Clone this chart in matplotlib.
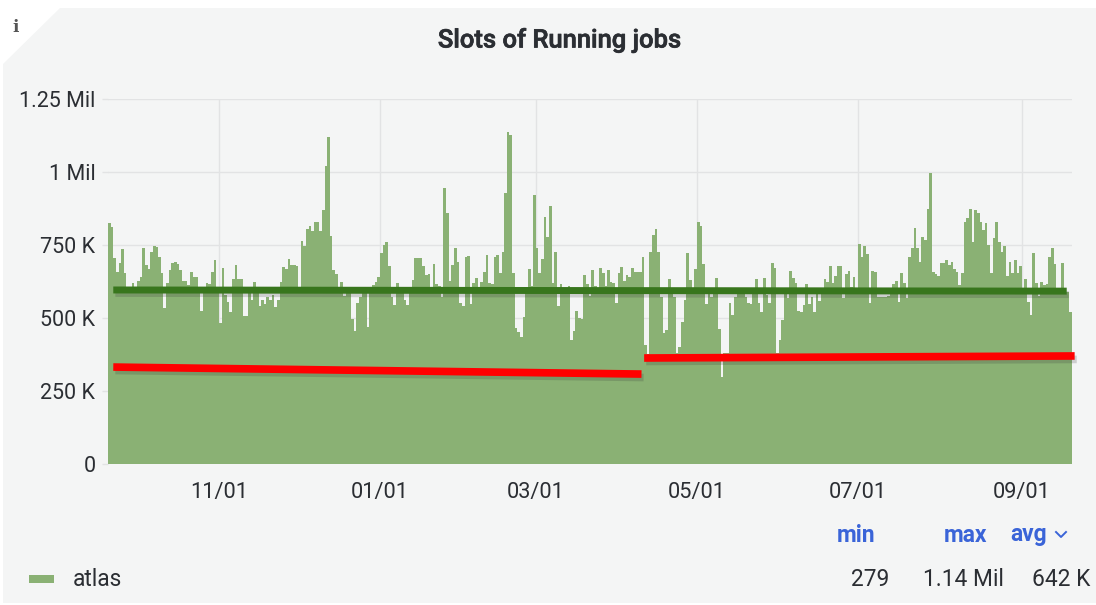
import matplotlib
matplotlib.use("Agg")
import matplotlib.pyplot as plt
import matplotlib.dates as mdates
import matplotlib.patheffects as pe
import pandas as pd
from matplotlib.patches import Polygon, Rectangle
from matplotlib.lines import Line2D

plt.rcParams["font.family"] = ["Roboto", "DejaVu Sans"]

# Daily slots in thousands
slots_autumn = [824, 813, 704, 659, 687, 735, 653, 600, 600, 621, 605, 627, 641, 739, 681, 668, 727, 748, 744, 710,
                653, 533, 619, 664, 689, 693, 685, 664, 628, 628, 613, 659, 639, 639, 600, 525, 600, 619, 615, 659,
                699, 600, 482, 670, 579, 556, 522, 632, 681, 632, 632, 508, 508, 600, 562, 624, 600, 541, 562, 548,
                573, 562, 579, 539, 562, 622, 676, 668, 701, 681, 681, 679, 600, 765, 747, 805, 815, 798, 829, 829,
                798, 870, 1022, 1121, 781, 664, 650, 600, 624, 575, 600, 585, 495, 455, 552, 573, 600, 600, 470, 600,
                612, 625, 641, 721, 750, 760, 679, 573, 544, 621, 600, 600, 562, 544, 600, 630, 704, 704]
slots_spring = [704, 679, 647, 650, 600, 685, 616, 610, 573, 946, 858, 628, 681, 739, 691, 550, 541, 708, 712, 548,
                621, 636, 600, 625, 659, 716, 619, 616, 708, 716, 653, 727, 929, 1138, 1127, 653, 465, 453, 436, 505,
                600, 668, 610, 921, 739, 653, 701, 847, 776, 884, 621, 725, 541, 615, 600, 600, 610, 425, 457, 525,
                499, 497, 647, 616, 576, 664, 610, 600, 670, 653, 610, 664, 624, 619, 550, 653, 676, 627, 647, 641,
                672, 656, 656, 656, 710, 408, 376, 725, 784, 805, 725, 573, 450, 459, 634, 600, 573, 379, 402, 487,
                562, 724, 630, 600, 668, 830, 816, 685, 548, 600, 571, 600, 636, 461, 297, 379, 379, 550, 510, 573,
                600, 600, 600, 573, 550]
slots_summer = [548, 600, 634, 550, 522, 636, 579, 553, 690, 670, 379, 425, 493, 590, 567, 662, 638, 621, 525, 519,
                545, 616, 548, 571, 522, 590, 558, 595, 634, 624, 679, 619, 645, 678, 678, 567, 650, 662, 607, 642,
                590, 753, 708, 747, 719, 553, 661, 659, 573, 571, 573, 573, 575, 590, 616, 628, 556, 655, 619, 567,
                710, 739, 809, 739, 691, 779, 767, 873, 995, 659, 650, 644, 690, 690, 699, 681, 693, 668, 659, 613,
                653, 830, 841, 872, 761, 870, 858, 828, 801, 824, 750, 653, 773, 828, 761, 727, 748, 644, 693, 653,
                699, 655, 678, 590, 634, 556, 510, 724, 619, 575, 622, 613, 616, 710, 741, 685, 590, 590, 690, 590,
                590, 522]
slots = slots_autumn + slots_spring + slots_summer
dates = pd.date_range("2020-09-20", periods=len(slots), freq="D")

tick_dates = ["2020-11-01", "2021-01-01", "2021-03-01", "2021-05-01", "2021-07-01", "2021-09-01"]
tick_labels = ["11/01", "01/01", "03/01", "05/01", "07/01", "09/01"]
y_ticks = [0, 250, 500, 750, 1000, 1250]
y_labels = ["0", "250 K", "500 K", "750 K", "1 Mil", "1.25 Mil"]

# Hand drawn guide lines on top of the chart
green_x = ["2020-09-22", "2021-09-18"]
green_y = [596, 592]
red1_x = ["2020-09-22", "2021-04-10"]
red1_y = [332, 308]
red2_x = ["2021-04-11", "2021-09-21"]
red2_y = [363, 370]

W, H = 1096, 605
BG = "#f4f5f5"
GRID = "#e2e3e4"
BAR = "#8ab174"
TEXT = "#2b2e33"
BLUE = "#3a64d8"

fig = plt.figure(figsize=(W / 100, H / 100), dpi=100, facecolor="white")

def px(x, y):
    return x / W, 1 - y / H

# panel background and the corner with the info mark
fig.patches.append(Rectangle((3 / W, 1 - 603 / H), (W - 3) / W, 595 / H, transform=fig.transFigure,
                             facecolor=BG, edgecolor="none", zorder=-2))
fig.patches.append(Polygon([px(3, 8), px(60, 8), px(3, 64)], closed=True, transform=fig.transFigure,
                           facecolor="white", edgecolor="none", zorder=-1))
fig.text(*px(16, 27), "i", family="DejaVu Serif", weight="bold", fontsize=12, color="#555555",
         ha="center", va="center")

ax = fig.add_axes([108 / W, 1 - 464 / H, 964 / W, 365 / H])
ax.set_facecolor("none")

edges = mdates.date2num(dates.tolist() + [dates[-1] + pd.Timedelta(days=1)])
ax.stairs(slots, edges, fill=True, color=BAR, linewidth=0, zorder=2)

ax.set_xlim(edges[0], edges[-1])
ax.set_ylim(0, 1250)
ax.set_xticks(mdates.date2num(pd.to_datetime(tick_dates)))
ax.set_xticklabels(tick_labels)
ax.set_yticks(y_ticks)
ax.set_yticklabels(y_labels)
ax.grid(True, color=GRID, linewidth=1.0, zorder=0)
ax.set_axisbelow(True)
ax.tick_params(axis="x", length=0, pad=13, labelsize=15.7, labelcolor=TEXT)
ax.tick_params(axis="y", length=4, width=1.0, color=GRID, pad=5, labelsize=15.5, labelcolor=TEXT)
for s in ax.spines.values():
    s.set_visible(False)

shadow = [pe.SimpleLineShadow(offset=(1.5, -2.5), shadow_color="#333333", alpha=0.2), pe.Normal()]
ax.plot(pd.to_datetime(green_x), green_y, color="#38761d", linewidth=5, solid_capstyle="butt",
        path_effects=shadow, zorder=4)
ax.plot(pd.to_datetime(red1_x), red1_y, color="#ff0000", linewidth=5.5, solid_capstyle="butt",
        path_effects=shadow, zorder=4)
ax.plot(pd.to_datetime(red2_x), red2_y, color="#ff0000", linewidth=5.5, solid_capstyle="butt",
        path_effects=shadow, zorder=4, clip_on=False)

fig.text(*px(559, 40), "Slots of Running jobs", fontsize=18.4, weight="medium", color=TEXT,
         ha="center", va="center", path_effects=[pe.withStroke(linewidth=0.5, foreground=TEXT)])

# legend table below the chart
fig.text(*px(875, 535), "min", fontsize=16.4, weight="bold", color=BLUE, ha="right", va="center")
fig.text(*px(987, 535), "max", fontsize=16.4, weight="bold", color=BLUE, ha="right", va="center")
fig.text(*px(1047, 535), "avg", fontsize=16.4, weight="bold", color=BLUE, ha="right", va="center")
cx = [px(1056, 532), px(1061, 537), px(1066, 532)]
fig.add_artist(Line2D([p[0] for p in cx], [p[1] for p in cx], color=BLUE, linewidth=1.4))

fig.patches.append(Rectangle(px(29, 583), 25 / W, 8 / H, transform=fig.transFigure,
                             facecolor=BAR, edgecolor="none"))
fig.text(*px(73, 580), "atlas", fontsize=16.4, color=TEXT, ha="left", va="center")
fig.text(*px(889, 580), "279", fontsize=16.4, color=TEXT, ha="right", va="center")
fig.text(*px(1004, 580), "1.14 Mil", fontsize=16.4, color=TEXT, ha="right", va="center")
fig.text(*px(1090, 580), "642 K", fontsize=16.4, color=TEXT, ha="right", va="center")

fig.savefig("out.png", dpi=100, facecolor="white")
